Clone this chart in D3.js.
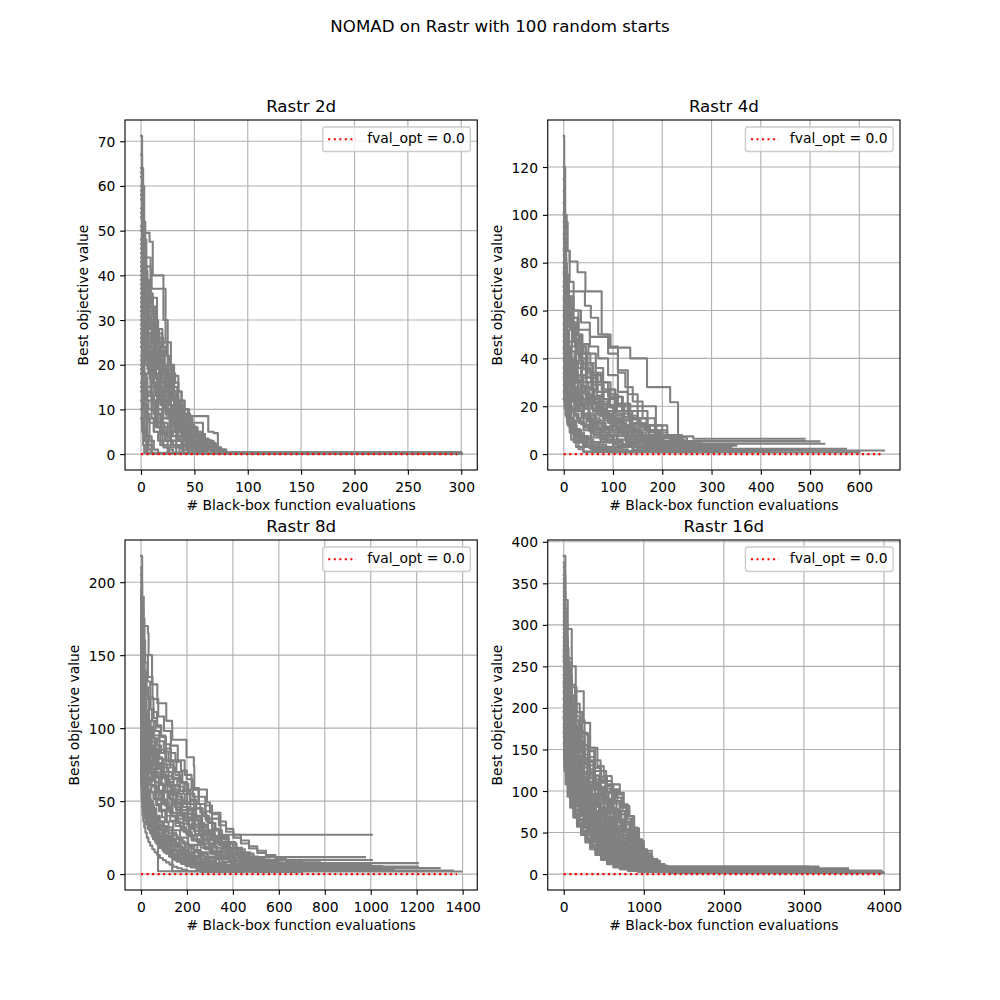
<!DOCTYPE html>
<html>
<head>
<meta charset="utf-8">
<script src="https://d3js.org/d3.v7.min.js"></script>
<style>
  body { margin: 0; background: #fff; }
  text { font-family: "DejaVu Sans", sans-serif; fill: #000; }
</style>
</head>
<body>
<div id="chart-area"></div>
<script>
/*
*    NOMAD on Rastr - best objective value vs evaluations
*    4 panels, one per dimension
*/

// ---- data ([evaluations, best value so far]) ----
var runs2d = [
  [[0,71.2],[1,64],[2,52],[4,38],[7,22],[10,12],[14,6],[20,2],[26,0.3],[300,0.1]],
  [[0,63],[1,60],[3,49.5],[7,49.5],[8,47.5],[10,47.5],[11,40],[20,40],[21,30],[25,20],[30,20],[31,12],[40,6],[50,1],[56,0.1],[300,0.1]],
  [[0,60],[2,45],[4,42],[9,41],[10,37],[22,37],[23,25],[28,17.5],[34,17.5],[35,10],[45,4],[55,1],[60,0.1],[300,0.1]],
  [[0,55],[2,48],[5,44],[8,44],[9,35],[14,35],[15,28],[20,26],[21,18],[30,14],[38,9],[46,8.5],[62,8.5],[63,5],[68,4.7],[72,1],[80,0.1],[300,0.1]],
  [[0,50],[2,40],[5,30],[12,27],[13,20],[20,18],[27,13],[35,12],[36,7],[57,7],[58,3],[66,2.5],[70,0.2],[300,0.1]],
  [[0,45],[1,35],[4,22],[9,15],[15,10],[20,5],[28,3],[40,0.2],[300,0.1]],
  [[0,42],[2,33],[6,28],[11,25],[12,18],[18,14],[25,9],[32,5],[42,3],[52,2.5],[60,1],[66,0.2],[300,0.1]],
  [[0,38],[2,30],[5,26],[7,23],[14,20],[20,16],[25,11],[32,8],[40,4],[50,2],[58,0.2],[300,0.1]],
  [[0,35],[1,20],[3,10],[6,4],[10,0.2],[300,0.1]],
  [[0,33],[2,28],[4,24],[6,24],[10,21],[14,18],[18,14],[22,10],[27,6],[34,3],[45,1],[52,0.1],[300,0.1]],
  [[0,30],[3,18],[5,8],[8,3],[12,1],[16,0.1],[300,0.1]],
  [[0,28],[1,15],[3,5],[5,0.3],[300,0.1]],
  [[0,25],[3,20],[8,17],[15,15],[22,12],[28,8],[36,5],[44,2],[52,0.2],[300,0.1]],
  [[0,22],[2,18],[5,14],[10,10],[16,6],[24,4],[33,2],[43,1],[48,0.3],[300,0.1]],
  [[0,20],[1,16],[3,10],[5,4],[7,1],[10,0.1],[300,0.1]],
  [[0,18],[2,15],[6,12],[12,9],[20,6],[28,3],[38,1],[44,0.1],[300,0.1]],
  [[0,16],[1,8],[3,3],[5,0.2],[300,0.1]],
  [[0,14],[2,11],[6,8],[12,5],[18,2],[25,0.2],[300,0.1]],
  [[0,12],[1,6],[2,2],[3,0.2],[300,0.1]],
  [[0,8],[1,5],[3,3],[6,0.2],[300,0.1]],
  [[0,48],[1,42],[3,30],[6,22],[9,20],[12,15],[16,10],[20,5],[25,1],[30,0.1],[300,0.1]],
  [[0,58],[1,50],[2,43],[4,36],[7,30],[10,28],[13,28],[14,22],[18,20],[23,15],[28,10],[33,5],[38,2],[45,0.3],[300,0.1]],
  [[0,53],[1,46],[3,40],[5,35],[7,32],[12,32],[13,24],[17,19],[22,16],[26,13],[31,9],[37,6],[45,3.5],[55,2],[62,1],[67,0.1],[300,0.1]],
  [[0,40],[1,32],[2,25],[4,20],[8,19],[12,17],[17,12],[21,8],[27,5],[35,3],[48,2],[54,0.2],[300,0.1]],
  [[0,44],[1,39],[2,34],[4,30],[8,29],[12,24],[15,22],[19,19],[23,14],[30,12],[33,9],[40,7],[45,4.5],[58,3.2],[65,1.5],[73,0.3],[300,0.1]],
  [[0,36],[1,31],[3,28],[6,26],[10,25],[13,21],[17,17],[20,12],[24,8],[30,6.5],[37,5],[42,3],[48,1.5],[55,0.2],[300,0.1]],
  [[0,32],[2,29],[5,27],[9,27],[10,22],[15,20],[19,17],[23,13],[27,11],[31,8.5],[36,6],[40,4],[47,2.5],[60,1.5],[68,0.4],[300,0.1]],
  [[0,26],[1,24],[3,22],[6,22],[8,18],[12,16],[16,13],[19,11],[24,9],[29,6],[33,4],[39,2],[44,0.2],[300,0.1]],
  [[0,24],[1,20],[2,16],[4,14],[7,13],[10,10],[13,7],[18,5],[22,3],[30,2],[36,0.2],[300,0.1]],
  [[0,67],[1,58],[2,50],[3,42],[5,38],[8,36],[11,33],[14,30],[16,27],[20,25],[24,22],[26,19],[30,15],[34,11],[40,8],[48,5],[56,3],[64,2],[70,1],[76,0.2],[300,0.1]],
  [[0,62],[1,55],[2,46],[4,41],[6,38],[9,33],[12,29],[15,26],[19,22],[22,19],[26,15],[30,12],[34,9],[38,6],[43,3],[50,1],[56,0.1],[300,0.1]],
  [[0,57],[1,49],[3,44],[5,39],[8,35],[11,31],[14,27],[17,23],[21,20],[25,17],[28,13],[31,10],[36,7],[42,4],[49,2],[55,0.1],[300,0.1]],
  [[0,46],[1,40],[3,36],[5,33],[8,30],[11,27],[14,24],[18,21],[21,18],[24,16],[27,14],[31,11],[35,8],[40,6],[47,4],[53,2],[60,0.1],[300,0.1]],
  [[0,41],[1,37],[2,33],[4,31],[7,29],[10,26],[13,23],[16,20],[20,18],[24,15],[28,12.5],[32,10],[38,8],[44,6],[52,4.5],[60,3],[68,1.5],[75,0.1],[300,0.1]],
  [[0,37],[1,33],[3,30],[6,27],[9,24],[12,21],[15,19],[18,16],[22,14],[26,11],[30,9],[34,7.5],[39,5.5],[46,4],[54,3],[62,2],[70,0.1],[300,0.1]],
  [[0,34],[1,30],[3,26],[5,23],[8,20],[11,18],[15,15],[19,13],[23,11],[28,9],[32,7],[37,5],[42,3.5],[50,2],[58,0.1],[300,0.1]],
  [[0,29],[1,26],[3,23],[6,21],[9,19],[13,17],[17,14],[21,12],[25,10],[30,8],[35,6],[41,4],[47,2.5],[54,1],[60,0.1],[300,0.1]],
  [[0,27],[2,24],[4,21],[7,18],[10,16],[14,13],[18,11],[23,9],[27,7],[32,5],[38,3.5],[45,2],[52,0.1],[300,0.1]],
  [[0,51],[1,44],[2,38],[3,34],[5,31],[8,28],[11,26],[14,24],[17,21],[20,19],[23,17],[26,15],[29,13],[32,11],[35,9],[38,7.5],[42,6],[47,4.5],[53,3],[61,1.5],[68,0.1],[300,0.1]],
  [[0,64],[1,56],[2,48],[3,41],[5,36],[7,33],[10,30],[13,28],[16,25],[19,23],[22,20],[25,18],[28,16],[31,14],[34,12],[37,10],[41,8],[45,6.5],[50,5],[56,3.5],[63,2],[71,0.8],[78,0.1],[300,0.1]],
  [[0,21],[1,19],[3,17],[6,15],[9,13],[12,11],[16,9],[20,7],[25,5.5],[30,4],[36,3],[42,1.5],[48,0.1],[300,0.1]],
  [[0,19],[1,17],[2,14],[4,12],[7,10],[10,8],[14,6],[18,4.5],[23,3],[28,1.5],[33,0.1],[300,0.1]],
  [[0,15],[1,13],[3,11],[5,9],[8,7],[12,5],[16,3],[21,1.5],[26,0.1],[300,0.1]],
  [[0,43],[1,36],[2,30],[3,25],[5,21],[7,18],[9,15],[12,12],[15,9],[18,7],[22,5],[27,3],[33,1.5],[39,0.1],[300,0.1]],
  [[0,39],[1,33],[2,28],[4,24],[6,21],[8,18],[11,16],[14,14],[17,12],[20,10.5],[24,9],[28,7.5],[33,6],[38,4.5],[44,3],[51,1.5],[57,0.1],[300,0.1]],
  [[0,31],[1,27],[2,24],[4,21],[6,19],[9,17],[12,15],[15,13],[18,11.5],[22,10],[26,8.5],[30,7],[35,5.5],[40,4],[46,2.5],[53,1.2],[59,0.1],[300,0.1]],
  [[0,54],[1,47],[2,41],[3,37],[4,34],[6,31],[8,29],[10,27],[12,25],[15,23],[18,21],[21,19],[24,17],[27,15.5],[30,14],[33,12],[36,10.5],[39,9],[43,7.5],[47,6],[52,4.5],[58,3],[65,2],[72,1],[79,0.1],[300,0.1]],
  [[0,10],[1,8],[2,6],[4,4],[7,2],[10,0.1],[300,0.1]],
  [[0,47],[1,41],[2,36],[3,31],[4,27],[6,24],[8,21],[10,19],[13,17],[16,15],[19,13],[22,11.5],[25,10],[29,8.5],[33,7],[37,5.5],[42,4],[48,2.5],[55,1],[62,0.1],[300,0.1]],
  [[0,59],[1,52],[2,46],[3,42],[5,39],[7,36],[9,34],[11,32],[13,30],[15,28],[17,26],[20,24],[23,22],[26,20],[29,18],[32,16],[35,14],[38,12],[41,10],[44,8],[48,6],[53,4],[59,2.5],[66,1.2],[74,0.1],[300,0.1]]
];

var runs4d = [
  [[0,133],[1,120],[3,100],[6,85],[12,72],[20,60],[30,45],[45,32],[60,22],[80,15],[100,10],[130,6],[170,3],[220,1.5],[650,1.5]],
  [[0,97],[5,97],[8,85],[12,80.5],[27,80.5],[28,76],[43,76],[44,68],[76,68],[77,50],[95,45],[110,35],[130,25],[150,18],[170,12],[200,7],[240,5.3],[519,5.3]],
  [[0,85],[3,75],[8,66],[20,60],[35,55],[53,49],[91,49],[92,44.5],[134,44.5],[135,40],[168,40],[169,28],[215,28],[216,21.7],[225,21.7],[232,7.4],[262,7.4],[263,6.4],[489,6.4]],
  [[0,90],[2,80],[5,72],[10,68],[42,68],[43,62],[55,57],[70,50],[90,42],[110,34],[125,28],[140,22],[160,15],[185,10],[210,7],[250,4.3],[529,4.3]],
  [[0,80],[2,70],[5,63],[15,57],[30,52],[52,52],[53,45],[70,40],[90,33],[110,26],[130,20],[186,20],[187,12],[210,8],[240,4],[270,2.2],[573,2.2]],
  [[0,75],[2,62],[5,50],[10,40],[18,30],[28,22],[40,16],[55,10],[75,6],[100,3],[140,1.5],[300,0.8],[600,0.8]],
  [[0,70],[1,55],[3,40],[6,28],[12,18],[20,10],[30,5],[40,1],[250,0.8]],
  [[0,65],[2,55],[6,45],[14,38],[25,32],[40,28],[60,24],[80,20],[100,16],[120,12],[145,8],[170,5],[220,3],[300,2],[490,2]],
  [[0,60],[1,48],[3,38],[8,30],[15,24],[25,18],[40,12],[60,8],[85,5],[120,3],[180,1.2],[380,1.2]],
  [[0,55],[2,45],[5,38],[10,34],[20,30],[35,26],[50,22],[70,18],[90,14],[105,11],[120,8],[150,5],[190,3],[260,1],[420,1]],
  [[0,50],[1,40],[3,30],[6,22],[12,15],[20,10],[35,7],[55,4],[80,2],[120,1],[200,1]],
  [[0,45],[2,36],[5,30],[12,26],[22,23],[35,20],[50,17],[65,14],[80,11],[100,9],[125,7],[160,5],[200,3],[270,1.8],[350,1.8]],
  [[0,40],[1,30],[4,20],[8,12],[15,6],[25,3],[40,1],[150,1]],
  [[0,23],[5,23],[8,18],[15,14],[25,10],[35,6],[45,3],[60,1],[200,1]],
  [[0,23],[3,23],[6,15],[12,9],[20,5],[30,2],[40,1],[100,1]],
  [[0,110],[1,95],[3,80],[6,70],[10,62],[16,55],[25,48],[35,42],[48,37],[60,33],[75,30],[90,27],[105,24],[120,21],[135,18],[150,15],[170,10],[190,7],[230,5.5],[490,5.5]],
  [[0,100],[2,85],[5,75],[10,65],[18,57],[28,50],[38,46],[50,42],[65,36],[80,30],[95,25],[110,20],[130,16],[150,13],[165,10],[185,7],[200,5],[230,3],[300,3]],
  [[0,88],[1,75],[3,62],[6,52],[10,44],[16,37],[24,31],[34,26],[46,22],[60,19],[75,16],[90,13],[105,10],[125,7],[150,5],[180,3.5],[230,2],[280,2]],
  [[0,78],[1,65],[3,55],[6,46],[10,38],[15,31],[22,25],[30,20],[40,16],[52,13],[65,10],[80,8],[100,6],[130,4],[170,2.5],[230,1.5],[260,1.5]],
  [[0,72],[1,60],[2,50],[4,42],[7,35],[11,28],[16,22],[22,17],[30,13],[40,10],[55,7],[75,5],[100,3],[140,1.5],[180,0.8],[300,0.8]],
  [[0,68],[2,58],[5,50],[9,45],[14,40],[20,36],[28,33],[38,30],[50,27],[62,24],[75,21],[88,18],[100,15],[115,12],[130,10],[150,8],[175,6],[200,4.5],[240,3.5],[280,3.5]],
  [[0,62],[1,52],[3,43],[6,36],[10,30],[15,25],[21,21],[28,18],[36,15],[46,12],[58,9],[72,7],[88,5],[110,3.5],[140,2],[180,1],[250,1]],
  [[0,58],[1,45],[2,35],[4,26],[7,19],[11,14],[16,10],[22,7],[30,5],[40,3],[55,2],[80,1],[150,1]],
  [[0,52],[1,44],[3,38],[5,34],[8,31],[12,29],[18,27],[25,25],[33,22],[42,19],[52,16],[64,13],[78,10],[92,8],[108,6],[128,4.5],[150,3],[185,2],[240,2]],
  [[0,47],[1,38],[2,30],[4,24],[7,19],[10,15],[14,12],[20,9],[27,7],[36,5],[48,3.5],[62,2],[80,1],[140,1]],
  [[0,42],[2,35],[4,30],[7,27],[11,24],[16,22],[22,20],[30,18],[40,16],[50,14],[62,11],[75,9],[88,7],[102,5],[118,4],[140,3],[170,2],[220,2]],
  [[0,36],[1,28],[3,21],[6,16],[10,12],[15,9],[22,7],[30,5],[40,3.5],[52,2.5],[66,1.5],[90,0.8],[160,0.8]],
  [[0,32],[1,25],[2,20],[4,16],[7,13],[12,11],[18,9],[25,7],[33,5.5],[42,4],[54,3],[70,2],[95,1],[170,1]],
  [[0,120],[1,100],[2,85],[4,72],[7,62],[11,53],[17,45],[25,38],[35,32],[46,27],[58,23],[72,19],[86,15],[100,12],[115,9],[132,7],[150,5.5],[175,4],[205,3],[240,2],[300,1.5]],
  [[0,105],[1,90],[3,78],[6,68],[10,60],[15,53],[21,47],[28,42],[36,38],[45,34],[55,30],[66,26],[78,23],[90,20],[104,17],[118,14],[134,11],[150,9],[168,7],[190,5.5],[215,4],[245,3],[270,2.5],[300,2.5]],
  [[0,95],[2,82],[5,73],[9,66],[14,60],[20,55],[27,50],[35,46],[44,42],[54,38],[65,34],[77,30],[90,27],[104,24],[118,21],[133,18],[150,15],[168,12],[188,9],[210,7],[235,5],[260,3.5],[300,3.5]],
  [[0,83],[2,72],[5,64],[9,58],[14,53],[20,48],[27,44],[35,40],[44,36],[54,33],[65,30],[77,27],[90,24],[104,21],[118,18],[133,15],[150,12],[170,9.5],[192,7],[218,5],[245,4],[350,4]],
  [[0,76],[1,66],[3,57],[6,50],[10,44],[15,39],[21,35],[28,31],[36,28],[45,25],[55,22],[66,20],[78,18],[91,16],[105,14],[120,12],[137,10],[155,8],[176,6],[200,4.5],[228,3],[260,2],[330,2]],
  [[0,70],[1,60],[3,52],[6,46],[10,41],[15,37],[21,33],[28,30],[36,27],[45,24],[55,21.5],[66,19],[78,17],[92,15],[107,13],[123,11],[140,9],[160,7],[183,5.5],[208,4],[238,3],[270,2],[400,2]],
  [[0,64],[1,56],[3,49],[5,44],[8,40],[12,36],[17,33],[23,30],[30,27],[38,25],[47,23],[57,21],[68,19],[80,17],[93,15],[107,13],[122,11],[138,9.5],[156,8],[176,6.5],[198,5],[222,4],[250,3],[300,3]],
  [[0,57],[1,50],[2,44],[4,39],[7,35],[11,32],[16,29],[22,27],[29,25],[37,23],[46,21],[56,19],[67,17],[79,15],[92,13],[106,11],[121,9.5],[138,8],[156,6.5],[176,5],[200,4],[230,3],[270,2.5],[320,2.5]],
  [[0,54],[1,47],[2,41],[4,36],[7,32],[10,29],[14,26],[19,23],[25,21],[32,19],[40,17],[49,15],[59,13.5],[70,12],[82,10.5],[95,9],[110,7.5],[126,6],[145,5],[166,4],[190,3],[220,2],[260,2]],
  [[0,49],[1,43],[2,38],[4,34],[6,31],[9,28],[13,25],[18,22],[24,20],[31,18],[39,16],[48,14],[58,12],[69,10.5],[81,9],[94,7.5],[109,6],[126,5],[146,4],[170,3],[200,2],[240,1.5],[300,1.5]],
  [[0,44],[1,38],[2,33],[3,29],[5,26],[8,23],[11,21],[15,19],[20,17],[26,15],[33,13.5],[41,12],[50,10.5],[60,9],[72,7.5],[85,6],[100,5],[118,4],[140,3],[165,2],[200,1.2],[260,1.2]],
  [[0,39],[1,34],[2,30],[4,27],[6,24],[9,22],[13,20],[17,18],[22,16],[28,14],[35,12.5],[43,11],[52,9.5],[62,8],[74,6.5],[88,5],[104,4],[124,3],[150,2],[180,1.2],[230,1.2]],
  [[0,34],[1,30],[2,26],[3,23],[5,20],[8,18],[11,16],[15,14],[20,12],[26,10.5],[33,9],[41,7.5],[50,6],[60,5],[72,4],[86,3],[104,2],[130,1.2],[180,1.2]],
  [[0,29],[1,25],[2,22],[4,19],[6,17],[9,15],[13,13],[18,11],[24,9.5],[31,8],[39,6.5],[48,5],[58,4],[70,3],[85,2],[105,1],[150,1]],
  [[0,26],[1,22],[2,19],[4,16],[7,14],[10,12],[14,10],[19,8.5],[25,7],[32,5.5],[40,4.5],[50,3.5],[62,2.5],[78,1.5],[100,0.8],[140,0.8]],
  [[0,115],[1,98],[2,86],[4,77],[6,70],[9,64],[13,59],[18,54],[24,50],[31,46],[39,42],[48,38],[58,34],[69,30],[81,27],[94,24],[108,21],[123,18],[139,15],[156,12],[175,9.5],[196,7.5],[220,5.5],[245,4],[275,3],[320,3]],
  [[0,92],[1,80],[3,71],[5,64],[8,58],[12,53],[17,49],[23,45],[30,41],[38,38],[47,35],[57,32],[68,29],[80,26],[93,23],[107,20],[122,17],[138,14.5],[155,12],[174,10],[195,8],[218,6],[245,4.5],[280,3.5],[350,3.5]],
  [[0,86],[1,74],[2,65],[4,58],[7,52],[11,47],[16,43],[22,39],[29,36],[37,33],[46,30],[56,27],[67,24.5],[79,22],[92,19.5],[106,17],[121,14.5],[137,12],[154,10],[173,8],[194,6.5],[218,5],[246,4],[280,3],[340,3]],
  [[0,66],[1,58],[2,51],[3,45],[5,40],[7,36],[10,33],[14,30],[19,28],[25,26],[32,24],[40,22],[49,20],[59,18],[70,16],[82,14],[95,12],[109,10.5],[124,9],[140,7.5],[158,6],[178,4.8],[200,3.8],[226,3],[256,2.2],[300,2.2]],
  [[0,61],[1,53],[2,47],[3,42],[5,38],[7,35],[10,32],[13,29.5],[17,27],[22,25],[28,23],[35,21],[43,19],[52,17],[62,15],[73,13],[85,11.5],[98,10],[112,8.5],[128,7],[145,5.8],[165,4.6],[188,3.6],[214,2.8],[245,2],[290,2]],
  [[0,101],[1,88],[2,78],[4,70],[6,63],[9,57],[13,52],[18,47],[24,43],[31,39],[39,35.5],[48,32],[58,29],[69,26],[81,23],[94,20.5],[108,18],[123,15.5],[139,13],[156,11],[174,9],[194,7],[216,5.5],[240,4.2],[268,3.2],[300,3.2]],
  [[0,80],[1,70],[2,62],[3,56],[5,51],[7,47],[10,43],[13,40],[17,37],[22,34],[28,31],[35,28.5],[43,26],[52,23.5],[62,21],[73,19],[85,17],[98,15],[112,13],[127,11],[143,9],[160,7.5],[180,6],[202,4.8],[226,3.8],[252,3],[290,3]]
];

var runs8d = [
  [[0,218],[5,190],[12,170],[30,165],[33,150],[48,130],[70,130],[71,117],[96,117],[110,105],[135,102],[136,92],[197,92],[198,80],[230,74],[232,58],[272,58],[287,49],[300,42],[345,42],[346,27],[1005,27]],
  [[0,200],[5,175],[15,150],[30,135],[50,120],[75,108],[100,98],[130,88],[160,78],[190,68],[220,58],[250,48],[280,38],[310,30],[340,24],[380,18],[420,14],[460,11.6],[975,11.6]],
  [[0,190],[3,165],[10,140],[20,120],[35,105],[55,95],[80,85],[110,75],[140,66],[170,57],[200,48],[230,40],[260,33],[290,27],[320,22],[360,17],[400,13],[450,9.6],[1005,9.6]],
  [[0,175],[3,150],[8,130],[16,112],[28,98],[45,86],[65,76],[90,66],[115,57],[140,49],[170,41],[200,34],[235,27],[270,21],[310,16],[350,12],[400,9],[460,7.5],[1205,7.5]],
  [[0,160],[2,140],[6,120],[12,104],[22,90],[36,78],[55,67],[78,57],[100,49],[125,42],[155,35],[185,29],[220,23],[260,18],[300,14],[350,10],[410,7],[480,5.2],[1205,5.2]],
  [[0,150],[2,130],[5,112],[10,96],[18,82],[30,70],[45,60],[65,51],[88,43],[112,36],[140,30],[170,25],[205,20],[245,15],[290,11],[340,8],[400,6],[470,4.1],[1300,4.1]],
  [[0,140],[2,120],[5,100],[10,84],[17,70],[27,58],[40,48],[55,40],[75,32],[100,26],[130,20],[165,15],[210,11],[260,8],[320,5.5],[390,3.5],[460,2.5],[1358,2.5]],
  [[0,130],[2,110],[5,92],[10,76],[16,63],[25,52],[37,43],[52,36],[70,30],[92,25],[118,20],[150,16],[190,12],[240,9],[300,6],[370,4],[440,1.8],[1394,1.8]],
  [[0,110],[2,90],[6,72],[12,58],[20,47],[30,38],[45,30],[60,25],[72,22],[74,2],[500,1.5],[700,1.5]],
  [[0,115],[1,98],[3,84],[6,72],[10,62],[16,53],[24,45],[34,38],[46,32],[60,27],[78,22],[100,18],[134,15],[136,2],[600,1.5]],
  [[0,105],[1,90],[3,78],[6,67],[11,58],[18,50],[27,43],[38,37],[52,31],[68,26],[88,21],[112,17],[140,13],[175,10],[215,7],[265,5],[330,3.5],[420,2.5],[800,2.5]],
  [[0,100],[1,85],[2,75],[5,64],[9,55],[15,47],[23,40],[33,34],[45,29],[60,24],[78,20],[100,16],[128,12.5],[160,10],[200,7.5],[250,5.5],[310,4],[390,3],[900,3]],
  [[0,95],[1,82],[3,70],[6,60],[10,52],[16,45],[24,39],[34,34],[46,29],[60,25],[76,21],[96,17],[120,14],[150,11],[190,8],[240,6],[300,4.5],[380,3.5],[700,3.5]],
  [[0,88],[1,76],[3,66],[6,58],[11,51],[18,45],[26,40],[36,36],[48,32],[62,28],[80,24],[100,20],[125,17],[155,14],[190,11],[230,8.5],[280,6.5],[340,5],[420,4],[1000,4]],
  [[0,80],[1,70],[3,62],[6,55],[10,49],[16,44],[24,39],[34,35],[46,31],[60,27],[78,23],[100,19.5],[126,16],[158,13],[195,10],[240,8],[295,6],[360,4.5],[450,3],[1100,3]],
  [[0,75],[2,66],[5,58],[9,51],[15,45],[22,40],[32,36],[45,32],[60,28],[80,24],[105,20],[135,16],[170,12],[210,9],[260,6.5],[320,4.5],[400,3],[850,3]],
  [[0,170],[2,150],[5,132],[10,118],[17,106],[26,96],[38,88],[52,81],[68,75],[85,70],[105,65],[125,60],[150,55],[175,50],[200,45],[225,40],[250,35],[275,30],[300,26],[330,22],[360,18],[395,14],[430,11],[480,8],[540,6],[600,5],[960,5]],
  [[0,155],[2,138],[5,124],[10,112],[17,102],[26,93],[38,85],[52,78],[68,72],[86,66],[106,60],[128,54],[152,48],[178,42],[205,37],[235,32],[265,28],[300,24],[340,20],[380,16],[420,13],[470,10],[530,8],[600,6.5],[700,6],[1000,6]],
  [[0,145],[3,125],[7,110],[12,100],[20,92],[30,86],[45,80],[60,76],[80,72],[100,68],[120,63],[140,58],[160,53],[180,48],[200,44],[220,40],[240,37],[265,33],[290,29],[315,25],[345,21],[380,17],[420,13],[460,10],[510,7],[560,5],[650,4],[800,4]],
  [[0,135],[2,118],[4,105],[8,95],[14,88],[22,82],[32,77],[45,72],[60,67],[78,62],[96,57],[115,52],[135,47],[158,42],[182,37],[208,32],[236,27],[265,23],[295,19],[330,15],[370,12],[410,9],[460,7],[520,5],[600,4],[700,4]],
  [[0,125],[2,110],[5,97],[9,87],[15,79],[23,72],[33,66],[45,61],[60,56],[76,52],[94,48],[112,44],[130,40],[150,36],[172,32],[196,28],[222,24],[250,20],[280,17],[312,14],[348,11],[390,8.5],[440,6.5],[500,5],[580,4],[650,4]],
  [[0,182],[2,160],[4,142],[8,128],[14,116],[22,106],[32,98],[44,91],[58,85],[74,80],[92,75],[112,70],[134,65],[158,60],[184,55],[212,50],[240,45],[268,40],[296,35],[324,30],[352,26],[380,22],[410,18],[440,15],[475,12],[510,10],[560,8],[620,7],[700,6.5],[900,6.5]],
  [[0,92],[1,80],[2,70],[4,60],[7,52],[11,45],[16,40],[22,36],[30,32],[40,28],[52,24],[66,21],[82,18],[100,15],[122,12],[148,9.5],[180,7.5],[220,5.5],[270,4],[340,3],[420,2],[600,2]],
  [[0,85],[1,72],[2,62],[4,54],[7,47],[11,42],[17,38],[25,34],[35,30],[47,26],[62,22],[80,18],[100,15],[125,12],[155,9],[190,7],[235,5],[290,3.5],[360,2.5],[500,2.5]],
  [[0,165],[1,145],[3,128],[6,115],[10,104],[16,94],[24,85],[34,77],[46,70],[60,63],[76,57],[94,51],[114,45],[136,40],[160,35],[186,30],[214,26],[244,22],[276,18],[310,15],[348,12],[390,9.5],[436,7.5],[490,6],[560,5],[640,4.5],[1100,4.5]],
  [[0,110],[1,95],[3,82],[6,71],[10,62],[15,55],[21,49],[29,44],[38,40],[49,36],[62,32],[76,28],[92,25],[110,22],[130,19],[152,16],[176,13],[204,10.5],[236,8.5],[272,6.5],[314,5],[362,3.5],[420,2.5],[480,1.5],[600,1.5]],
  [[0,195],[1,172],[3,152],[6,136],[10,122],[16,110],[24,100],[34,92],[46,85],[60,79],[76,73],[94,67],[114,61],[134,55],[156,49],[178,44],[202,39],[228,34],[256,29],[286,25],[318,21],[352,17],[390,14],[430,11],[475,9],[525,7],[600,6],[1000,6]],
  [[0,140],[1,122],[2,108],[4,96],[7,85],[11,76],[16,68],[22,61],[30,55],[40,50],[52,45],[66,40],[82,36],[100,32],[120,28],[142,24],[166,21],[192,18],[220,15],[250,12],[285,9.5],[325,7.5],[370,6],[420,4.5],[480,3.5],[560,3],[750,3]],
  [[0,128],[1,110],[3,95],[6,83],[10,73],[15,64],[21,57],[28,51],[36,46],[46,42],[58,38],[72,34],[88,30],[106,26],[126,22],[148,19],[172,16],[198,13],[228,10.5],[262,8.5],[300,7],[345,5.5],[395,4.5],[450,3.5],[520,3],[650,3]],
  [[0,98],[1,84],[3,72],[6,62],[10,54],[16,47],[24,41],[34,36],[46,31],[60,27],[76,23],[94,19],[115,16],[140,13],[168,10],[200,8],[240,6],[290,4.5],[350,3],[430,2],[550,1.5],[700,1.5]],
  [[0,205],[4,180],[10,160],[18,145],[28,132],[40,121],[54,111],[70,102],[88,94],[108,86],[130,78],[154,70],[180,62],[206,55],[232,48],[258,42],[284,36],[310,31],[338,26],[368,21],[400,17],[434,13],[470,10],[510,8],[560,6.5],[640,6],[850,6]],
  [[0,185],[3,163],[8,146],[15,133],[24,122],[35,113],[48,105],[63,98],[80,91],[99,84],[120,77],[142,70],[166,63],[190,57],[215,51],[240,45],[266,40],[292,35],[320,30],[350,25],[382,21],[416,17],[452,14],[490,11],[535,9],[590,7.5],[660,7],[950,7]],
  [[0,168],[3,148],[8,132],[15,120],[24,110],[35,101],[48,93],[63,86],[80,79],[99,73],[120,67],[142,61],[166,55],[190,49],[215,44],[240,39],[266,34],[292,30],[320,26],[350,22],[382,18],[416,15],[452,12],[490,9.5],[535,7.5],[590,6],[700,5.5],[1050,5.5]],
  [[0,152],[3,134],[7,120],[13,109],[21,100],[31,92],[43,85],[57,79],[73,73],[91,67],[111,61.5],[133,56],[157,51],[182,46],[208,41],[235,36.5],[263,32],[292,28],[322,24],[354,20.5],[388,17],[424,14],[462,11.5],[502,9],[548,7],[600,5.5],[680,5],[900,5]],
  [[0,138],[2,122],[6,109],[12,99],[20,91],[29,84],[40,78],[53,72],[68,66],[85,61],[104,56],[125,51],[148,46],[172,42],[197,38],[223,34],[250,30],[278,26.5],[307,23],[338,20],[370,17],[404,14],[440,11.5],[478,9],[520,7],[570,5.5],[640,4.5],[780,4.5]],
  [[0,122],[2,108],[5,97],[10,88],[17,81],[25,75],[35,69],[47,64],[61,59],[77,54],[95,50],[115,46],[137,42],[160,38],[184,34.5],[209,31],[235,27.5],[262,24],[290,21],[320,18],[352,15.5],[386,13],[422,10.5],[460,8.5],[500,6.5],[550,5],[620,4],[750,4]],
  [[0,108],[2,96],[5,86],[9,78],[15,72],[22,66],[31,61],[42,56],[55,52],[70,48],[87,44],[106,40],[127,36.5],[150,33],[174,30],[199,27],[225,24],[252,21],[280,18.5],[310,16],[342,13.5],[376,11],[412,9],[450,7],[495,5.5],[550,4.5],[620,4],[720,4]],
  [[0,96],[1,86],[3,78],[6,71],[10,65],[15,60],[21,55],[29,51],[38,47],[49,43],[62,39.5],[77,36],[94,33],[113,30],[134,27],[157,24],[181,21.5],[206,19],[232,16.5],[260,14],[290,12],[322,10],[356,8.5],[392,7],[432,5.5],[480,4.5],[540,3.5],[640,3.5]],
  [[0,82],[1,74],[3,67],[6,61],[10,56],[15,51],[21,47],[29,43],[38,39.5],[49,36],[62,33],[77,30],[94,27],[113,24],[134,21.5],[157,19],[181,16.5],[206,14.5],[232,12.5],[260,10.5],[290,9],[322,7.5],[356,6],[392,5],[432,4],[480,3],[560,2.5],[700,2.5]],
  [[0,78],[1,68],[2,60],[4,53],[7,47],[11,42],[16,38],[22,34],[30,31],[40,28],[52,25],[66,22],[82,19.5],[100,17],[120,15],[142,13],[166,11],[192,9.5],[220,8],[250,6.5],[282,5.5],[316,4.5],[352,3.5],[392,2.8],[440,2.2],[520,2.2]],
  [[0,210],[2,185],[5,165],[9,150],[15,138],[22,128],[31,120],[42,113],[55,107],[70,101],[87,95],[106,89],[127,83],[150,77],[174,71],[199,65],[225,59],[252,53],[280,47],[309,41],[339,36],[370,31],[402,27],[435,23],[470,19],[506,16],[544,13],[585,11],[630,9],[700,8],[780,7.5],[1000,7.5]],
  [[0,178],[2,158],[5,142],[9,130],[15,120],[22,112],[31,105],[42,99],[55,93],[70,88],[87,83],[106,78],[127,73],[150,68],[174,63],[199,58],[225,53],[252,48],[280,43],[309,38],[339,33.5],[370,29],[402,25],[435,21],[470,17.5],[506,14.5],[544,12],[585,10],[630,8.5],[700,7],[1000,7]],
  [[0,118],[1,104],[3,92],[6,82],[10,74],[15,67],[21,61],[28,56],[36,51],[45,47],[55,43],[66,39],[78,35.5],[91,32],[105,29],[120,26],[136,23],[153,20.5],[171,18],[190,16],[210,14],[232,12],[256,10],[282,8.5],[310,7],[340,5.5],[372,4.5],[406,3.5],[444,2.5],[500,2],[600,2]],
  [[0,90],[1,79],[2,70],[4,62],[7,55],[10,49],[14,44],[19,40],[25,36],[32,32.5],[40,29],[49,26],[59,23],[70,20.5],[82,18],[95,16],[109,14],[124,12],[140,10],[157,8.5],[175,7],[195,5.5],[217,4.5],[241,3.5],[268,2.5],[300,2],[400,2]],
  [[0,162],[2,143],[5,128],[9,116],[14,106],[20,98],[27,91],[35,85],[44,80],[54,75],[65,70],[77,65.5],[90,61],[104,56.5],[119,52],[135,48],[152,44],[170,40],[189,36.5],[209,33],[230,29.5],[252,26.5],[275,23.5],[299,20.5],[324,18],[350,15.5],[378,13],[408,11],[440,9],[476,7.5],[520,6],[580,5],[680,4.5],[900,4.5]],
  [[0,148],[2,130],[4,116],[8,105],[13,96],[19,88],[26,81],[34,75],[43,69.5],[53,64.5],[64,60],[76,55.5],[89,51],[103,47],[118,43],[134,39.5],[151,36],[169,32.5],[188,29],[208,26],[229,23],[251,20],[274,17.5],[298,15],[324,12.5],[352,10.5],[382,8.5],[414,7],[450,5.5],[490,4.5],[540,3.5],[620,3],[800,3]],
  [[0,132],[1,116],[3,103],[6,93],[10,85],[15,78],[21,72],[28,66],[36,61],[45,56],[55,51.5],[66,47],[78,43],[91,39],[105,35.5],[120,32],[136,28.5],[153,25.5],[171,22.5],[190,20],[210,17.5],[231,15],[253,13],[276,11],[300,9],[326,7.5],[354,6],[384,5],[416,4],[452,3],[500,2.5],[600,2.5]],
  [[0,102],[1,90],[3,80],[6,72],[10,65],[15,59],[21,54],[28,49.5],[36,45],[45,41],[55,37],[66,33.5],[78,30],[91,27],[105,24],[120,21.5],[136,19],[153,16.5],[171,14.5],[190,12.5],[210,10.5],[231,9],[253,7.5],[276,6],[300,5],[326,4],[354,3],[400,2.5],[500,2.5]],
  [[0,86],[1,76],[2,68],[4,61],[6,55],[9,50],[13,45],[18,41],[24,37],[31,33.5],[39,30],[48,27],[58,24],[69,21.5],[81,19],[94,16.5],[108,14.5],[123,12.5],[139,10.5],[156,9],[174,7.5],[194,6],[216,5],[240,4],[266,3],[300,2],[360,1.5],[450,1.5]],
  [[0,76],[1,66],[2,58],[3,51],[5,45],[7,40],[10,36],[14,32],[19,28.5],[25,25],[32,22],[40,19.5],[49,17],[59,15],[70,13],[82,11],[95,9.5],[109,8],[124,6.5],[140,5],[158,4],[178,3],[200,2],[260,1.5],[400,1.5]]
];

var runs16d = [
  [[0,383],[20,330],[50,295],[100,250],[150,220],[250,182],[330,152],[420,130],[500,118],[600,108],[700,98],[750,82],[820,70],[880,55],[940,40],[1000,28],[1100,16],[1200,10],[1300,8],[3180,8]],
  [[0,360],[20,300],[50,260],[100,225],[160,195],[230,170],[300,148],[380,128],[460,112],[540,98],[620,85],[700,72],[770,60],[830,48],[900,36],[970,26],[1050,18],[1150,12],[1250,9],[3180,9]],
  [[0,340],[20,280],[50,240],[100,205],[160,178],[230,155],[300,135],[370,118],[440,103],[520,90],[600,78],[680,66],[760,54],[840,42],[920,31],[1000,22],[1090,15],[1200,10],[1280,7],[3550,7]],
  [[0,320],[15,260],[40,225],[80,195],[130,170],[190,150],[260,132],[330,116],[400,102],[480,88],[560,76],[640,64],[720,52],[800,41],[880,31],[960,22],[1050,15],[1150,10],[1250,6],[3000,6]],
  [[0,300],[15,240],[40,205],[80,178],[130,155],[190,135],[250,120],[320,104],[390,90],[460,78],[540,66],[620,55],[700,44],[780,34],[860,25],[950,17],[1050,11],[1150,7],[1250,5],[3100,5]],
  [[0,285],[10,230],[30,195],[70,168],[120,145],[180,125],[240,110],[300,96],[370,82],[440,70],[520,58],[600,47],[680,37],[760,28],[840,20],[930,13],[1030,8],[1150,4.4],[3967,4.4]],
  [[0,270],[10,215],[30,180],[60,155],[110,133],[170,115],[230,100],[290,87],[350,76],[420,64],[500,53],[580,43],[660,34],[740,26],[820,19],[910,13],[1000,9],[1100,6],[1200,4],[2900,4]],
  [[0,255],[10,205],[25,172],[55,148],[100,127],[150,110],[210,95],[270,82],[330,71],[400,60],[470,50],[550,40],[630,31],[710,23],[800,16],[890,11],[990,7],[1100,4],[1200,2.4],[3988,2.4]],
  [[0,240],[8,195],[22,165],[50,140],[90,120],[140,103],[195,89],[250,77],[310,66],[375,56],[445,46],[520,37],[600,29],[680,22],[760,16],[850,11],[950,7],[1050,4.5],[1150,3],[2800,3]],
  [[0,225],[8,185],[20,158],[45,135],[80,116],[125,100],[175,87],[230,75],[290,64],[350,54],[420,44],[495,35],[570,27],[650,20],[730,14],[820,9.5],[920,6],[1030,4],[1150,3],[3000,3]],
  [[0,210],[6,175],[18,150],[40,128],[75,110],[115,95],[165,82],[220,70],[275,60],[335,50],[400,41],[470,33],[545,25],[620,18],[700,13],[790,9],[890,6],[1000,4],[3100,4]],
  [[0,195],[5,165],[15,142],[35,122],[65,105],[105,90],[150,77],[200,66],[255,56],[310,47],[370,39],[440,31],[510,24],[590,17],[670,12],[760,8],[860,5],[980,3],[3200,3]],
  [[0,180],[5,155],[14,135],[30,116],[58,100],[95,86],[140,73],[190,62],[245,52],[300,43],[360,35],[425,28],[495,21],[570,15],[650,10.5],[740,7],[840,4.5],[960,3],[2700,3]],
  [[0,165],[4,145],[12,128],[28,111],[52,96],[85,82],[125,70],[170,59],[220,49],[275,40],[335,32],[400,25],[470,19],[545,13],[625,9],[710,6],[810,4],[930,3],[3150,3]],
  [[0,157],[4,138],[10,124],[24,108],[48,93],[80,80],[120,68],[165,57],[215,47],[270,38],[330,30],[395,23],[465,17],[540,12],[620,8],[700,6],[800,4],[3100,4]],
  [[0,350],[15,290],[40,250],[80,215],[130,185],[190,160],[250,140],[320,123],[390,108],[460,95],[540,83],[620,72],[700,62],[780,52],[860,42],[930,33],[1000,25],[1080,18],[1170,12],[1260,9],[3050,9]],
  [[0,330],[12,275],[35,235],[70,203],[115,177],[170,156],[230,138],[295,121],[360,106],[430,93],[505,80],[580,69],[660,58],[740,47],[820,37],[900,28],[980,20],[1070,14],[1170,9],[1270,7],[2950,7]],
  [[0,310],[10,255],[30,215],[65,185],[110,160],[165,140],[225,123],[290,108],[355,94],[425,81],[500,69],[575,58],[655,47],[735,37],[815,28],[900,20],[990,14],[1090,9],[1200,6],[3100,6]],
  [[0,290],[10,240],[28,205],[60,176],[100,152],[150,132],[210,115],[270,100],[335,87],[400,75],[475,63],[550,52],[630,42],[710,33],[790,25],[880,18],[970,12],[1080,8],[1200,5],[2900,5]],
  [[0,275],[8,228],[25,195],[55,168],[95,146],[145,127],[200,111],[260,97],[320,85],[385,73],[455,61],[530,50],[610,40],[690,31],[775,23],[860,16],[950,11],[1060,7],[1180,4],[3000,4]],
  [[0,262],[8,218],[22,186],[50,160],[88,138],[135,120],[190,104],[245,91],[305,79],[370,67],[440,56],[515,45],[595,35],[675,27],[760,20],[850,14],[945,9],[1050,6],[1170,4],[3120,4]],
  [[0,248],[7,205],[20,175],[45,151],[80,130],[125,113],[178,98],[232,85],[290,74],[352,63],[420,52],[495,42],[575,33],[655,25],[740,18],[830,12.5],[925,8.5],[1030,5.5],[1150,3.5],[3000,3.5]],
  [[0,232],[6,192],[18,165],[42,142],[75,123],[118,106],[168,92],[220,80],[275,69],[335,59],[400,49],[470,40],[548,31],[628,23],[712,17],[800,12],[895,8],[1000,5],[1120,3],[2850,3]],
  [[0,218],[6,182],[16,157],[38,135],[70,117],[110,101],[158,87],[208,75],[262,64],[320,54],[385,45],[455,36],[530,28],[610,21],[695,15],[785,10.5],[880,7],[985,4.5],[1100,3],[3050,3]],
  [[0,202],[5,170],[15,147],[34,127],[64,110],[102,95],[148,82],[196,70],[248,60],[305,50],[368,41],[436,33],[510,25],[590,18.5],[672,13],[760,9],[856,6],[960,4],[1080,2.5],[2950,2.5]],
  [[0,188],[5,160],[14,139],[32,120],[60,104],[95,90],[138,77],[185,66],[235,56],[290,47],[350,38],[415,30],[488,23],[565,17],[645,12],[732,8.5],[828,5.5],[935,3.5],[3100,3.5]],
  [[0,172],[4,150],[12,131],[28,113],[54,98],[88,84],[128,72],[174,61],[222,51],[276,42],[334,34],[398,27],[468,20],[545,14.5],[625,10],[712,7],[808,4.5],[920,3],[3020,3]],
  [[0,230],[10,200],[25,180],[50,162],[85,146],[130,132],[185,119],[245,107],[310,96],[380,86],[450,76],[520,68],[590,60],[650,53],[700,45],[745,38],[790,31],[840,24],[900,18],[965,13],[1040,9.5],[1130,7],[1230,5.5],[3550,5.5]],
  [[0,265],[10,235],[25,212],[50,192],[85,175],[130,160],[180,147],[240,134],[300,122],[365,111],[430,100],[500,90],[570,80],[640,70],[700,62],[760,53],[815,45],[865,37],[915,29],[970,22],[1030,16],[1100,11],[1180,8],[1270,6],[3180,6]],
  [[0,375],[10,320],[25,285],[50,255],[90,228],[140,205],[200,185],[260,168],[320,152],[390,137],[460,124],[530,112],[600,100],[670,88],[735,76],[795,63],[850,51],[905,40],[960,30],[1020,21],[1090,14],[1170,9],[1260,6],[1320,1.5],[4000,1.5]],
  [[0,370],[10,315],[30,272],[60,240],[100,214],[150,190],[200,172],[260,155],[320,141],[390,128],[460,117],[540,108],[620,102],[680,96],[740,84],[800,70],[860,56],[920,42],[980,30],[1040,21],[1110,14],[1190,9],[1270,6],[3200,6]],
  [[0,355],[10,300],[30,262],[60,232],[100,207],[150,184],[200,166],[260,150],[320,137],[390,124],[460,114],[540,106],[600,101],[660,92],[720,80],[780,67],[840,53],[900,40],[960,29],[1020,20],[1090,13],[1170,8.5],[1250,6],[2950,6]],
  [[0,345],[10,290],[30,252],[60,223],[100,199],[150,177],[200,160],[260,144],[320,131],[390,119],[460,110],[520,103],[580,99],[640,88],[700,76],[760,63],[820,50],[880,38],[940,27],[1000,19],[1070,12.5],[1150,8],[1230,5.5],[3100,5.5]],
  [[0,335],[10,282],[30,244],[60,215],[100,192],[150,171],[200,154],[260,139],[320,126],[390,114],[460,105],[540,98],[600,87],[660,75],[720,63],[780,51],[840,40],[900,30],[960,22],[1030,15],[1100,10],[1180,7],[1260,5],[3000,5]],
  [[0,325],[10,272],[30,236],[60,208],[100,185],[150,164],[200,148],[260,133],[320,120],[390,109],[450,103],[500,99],[560,88],[620,76],[680,64],[740,52],[800,41],[860,31],[920,23],[990,16],[1060,11],[1140,7.5],[1220,5],[3050,5]],
  [[0,315],[10,262],[30,228],[60,200],[100,178],[150,158],[200,142],[260,128],[320,116],[390,105],[470,98],[530,87],[590,75],[650,63],[710,51],[770,40],[830,31],[890,23],[960,16],[1030,11],[1110,7.5],[1200,5],[3150,5]],
  [[0,305],[8,255],[25,222],[55,195],[95,172],[140,153],[190,137],[250,123],[310,111],[370,102],[430,97],[490,86],[550,74],[610,62],[670,51],[730,41],[790,32],[850,24],[920,17],[990,11.5],[1070,8],[1160,5.5],[3000,5.5]],
  [[0,295],[8,245],[25,212],[55,186],[95,164],[140,146],[190,131],[250,117],[310,106],[390,97],[450,85],[510,73],[570,62],[630,51],[690,41],[750,32],[810,25],[880,18],[950,12.5],[1030,8.5],[1120,5.5],[3100,5.5]],
  [[0,280],[8,232],[25,200],[55,175],[95,154],[140,137],[190,123],[250,110],[300,102],[350,96],[410,84],[470,72],[530,61],[590,50],[650,40],[710,31],[770,24],[840,17],[910,12],[990,8],[1080,5],[2950,5]],
  [[0,268],[8,222],[22,192],[50,167],[88,147],[132,131],[180,117],[236,105],[290,100],[320,95],[380,82],[440,70],[500,59],[560,48],[620,39],[680,31],[740,24],[810,17],[880,12],[960,8],[1050,5],[3000,5]],
  [[0,258],[8,213],[22,184],[50,160],[88,141],[132,125],[180,112],[236,102],[280,97],[340,84],[400,72],[460,61],[520,50],[580,41],[640,33],[700,26],[770,19],[840,13.5],[920,9],[1010,6],[1110,4],[3100,4]],
  [[0,245],[7,203],[20,175],[45,152],[80,134],[120,119],[165,107],[215,101],[250,96],[310,83],[370,71],[430,60],[490,50],[550,41],[610,33],[670,26],[740,19],[810,13.5],[890,9],[980,6],[1080,4],[2900,4]],
  [[0,236],[7,195],[20,168],[45,146],[80,128],[120,114],[165,104],[210,97],[270,84],[330,72],[390,61],[450,51],[510,42],[570,34],[630,27],[700,20],[770,14.5],[850,10],[940,6.5],[1040,4],[3050,4]],
  [[0,220],[6,183],[18,158],[40,137],[72,120],[110,108],[145,102],[170,97],[230,84],[290,72],[350,61],[410,51],[470,42],[530,34],[595,27],[660,21],[730,15],[810,10.5],[900,7],[1000,4.5],[3000,4.5]],
  [[0,212],[6,176],[18,151],[40,131],[72,115],[110,104],[140,98],[200,85],[260,73],[320,62],[380,52],[440,43],[500,35],[565,28],[630,21.5],[700,16],[780,11],[870,7.5],[970,5],[2900,5]],
  [[0,196],[5,164],[16,141],[36,123],[65,109],[95,102],[115,97],[170,85],[230,73],[290,62],[350,52],[410,43],[470,35],[535,28],[600,21.5],[670,16],[750,11],[840,7.5],[940,5],[3050,5]],
  [[0,186],[5,156],[15,134],[34,117],[60,104],[90,98],[150,85],[210,73],[270,62],[330,52],[390,43],[450,35],[515,28],[580,21.5],[650,16],[730,11],[820,7],[920,4.5],[3100,4.5]],
  [[0,176],[4,148],[13,128],[30,112],[55,102],[80,97],[130,86],[185,75],[245,64],[305,54],[365,45],[425,37],[490,29.5],[555,23],[625,17],[700,12],[785,8],[880,5],[2950,5]],
  [[0,300],[12,250],[30,215],[55,190],[85,170],[120,154],[160,140],[210,114],[270,95],[330,80],[390,67],[450,56],[510,46],[570,37],[630,29],[690,22],[760,16],[840,11],[930,7],[1030,4.5],[3200,4.5]],
  [[0,262],[10,225],[25,200],[50,178],[80,160],[115,145],[155,132],[200,120],[250,109],[300,99],[350,90],[400,81],[450,73],[500,66],[560,58],[620,50],[680,42],[740,34],[800,27],[860,21],[930,15.5],[1010,11],[1100,7.5],[1200,5],[3000,5]],
  [[0,240],[8,205],[22,180],[45,160],[75,143],[110,128],[150,116],[195,105],[245,95],[295,86],[345,78],[400,70],[455,62],[510,55],[570,48],[630,41],[690,34],[750,28],[815,22],[880,17],[950,12.5],[1030,9],[1120,6],[3100,6]],
  [[0,228],[7,195],[20,172],[42,152],[70,136],[104,122],[142,110],[186,99],[234,89],[284,80],[336,72],[390,64],[446,56],[504,49],[564,42],[626,35],[690,29],[756,23],[824,18],[894,13.5],[970,9.5],[1050,6.5],[1150,4.5],[3000,4.5]],
  [[0,204],[6,176],[18,155],[38,137],[64,122],[96,109],[132,98],[174,88],[220,79],[268,71],[318,63],[370,56],[424,49],[480,43],[540,37],[602,31],[666,25.5],[732,20.5],[800,16],[872,12],[950,8.5],[1040,6],[1140,4],[3100,4]],
  [[0,190],[5,164],[15,145],[33,128],[58,114],[88,102],[122,92],[162,83],[206,75],[254,67],[304,60],[356,53],[410,46.5],[466,40.5],[524,35],[584,29.5],[646,24.5],[710,20],[778,15.5],[850,11.5],[930,8],[1020,5.5],[1120,3.5],[2950,3.5]],
  [[0,170],[4,148],[13,131],[29,116],[52,103],[80,92],[112,82],[150,73],[192,65],[238,57.5],[286,50.5],[336,44],[388,38],[442,32.5],[498,27.5],[556,23],[616,18.5],[680,14.5],[748,11],[822,8],[902,5.5],[990,3.5],[2800,3.5]]
];

var panelTitles = ["Rastr 2d", "Rastr 4d", "Rastr 8d", "Rastr 16d"];
var xTickValues = [
  [0, 50, 100, 150, 200, 250, 300],
  [0, 100, 200, 300, 400, 500, 600],
  [0, 200, 400, 600, 800, 1000, 1200, 1400],
  [0, 1000, 2000, 3000, 4000]
];
var yTickValues = [
  [0, 10, 20, 30, 40, 50, 60, 70],
  [0, 20, 40, 60, 80, 100, 120],
  [0, 50, 100, 150, 200],
  [0, 50, 100, 150, 200, 250, 300, 350, 400]
];
var fvalOpt = 0.0;
var optLineEnd = [296, 645, 1375, 3970];   // x where the red reference line stops

// ---- layout (matplotlib 10x10 in figure at 100 dpi, 2x2 subplots) ----
var figW = 1000, figH = 1000;
var W = 352.27, H = 350;
var colLeft = [125, 547.73];
var rowTop = [120, 540];
var pt = 100 / 72;   // one point in px
var fs = 10 * pt;
var fsTitle = 12 * pt;
var lineW = 1.5 * pt;
var dots = (1 * lineW) + "," + (1.65 * lineW);

var svg = d3.select("#chart-area")
  .append("svg")
    .attr("width", figW)
    .attr("height", figH);

svg.append("rect").attr("width", figW).attr("height", figH).attr("fill", "#fff");

// suptitle
svg.append("text")
  .attr("x", figW / 2)
  .attr("y", 32)
  .attr("text-anchor", "middle")
  .attr("font-size", fsTitle + "px")
  .text("NOMAD on Rastr with 100 random starts");

var panelRuns = [runs2d, runs4d, runs8d, runs16d];

panelRuns.forEach(function(runs, i) {
  var left = colLeft[i % 2];
  var top = rowTop[Math.floor(i / 2)];

  // matplotlib style autoscale: 5% margins, y range includes the optimum line
  var xMax = d3.max(runs, function(r) { return d3.max(r, function(d) { return d[0]; }); });
  var yMax = d3.max(runs, function(r) { return d3.max(r, function(d) { return d[1]; }); });
  var yMin = Math.min(fvalOpt, d3.min(runs, function(r) { return d3.min(r, function(d) { return d[1]; }); }));

  var x = d3.scaleLinear()
    .domain([-0.05 * xMax, 1.05 * xMax])
    .range([0, W]);
  var y = d3.scaleLinear()
    .domain([yMin - 0.05 * (yMax - yMin), yMax + 0.05 * (yMax - yMin)])
    .range([H, 0]);

  var g = svg.append("g")
    .attr("transform", "translate(" + left + "," + top + ")");

  g.append("clipPath").attr("id", "clip" + i)
    .append("rect").attr("width", W).attr("height", H);

  // grid
  g.append("g").selectAll("line").data(xTickValues[i]).enter().append("line")
    .attr("x1", function(d) { return x(d); })
    .attr("x2", function(d) { return x(d); })
    .attr("y1", 0).attr("y2", H)
    .attr("stroke", "#b0b0b0").attr("stroke-width", 0.8 * pt);
  g.append("g").selectAll("line").data(yTickValues[i]).enter().append("line")
    .attr("y1", function(d) { return y(d); })
    .attr("y2", function(d) { return y(d); })
    .attr("x1", 0).attr("x2", W)
    .attr("stroke", "#b0b0b0").attr("stroke-width", 0.8 * pt);

  // runs: best value so far, held until the next improvement
  var stepLine = d3.line()
    .curve(d3.curveStepAfter)
    .x(function(d) { return x(d[0]); })
    .y(function(d) { return y(d[1]); });

  var plot = g.append("g").attr("clip-path", "url(#clip" + i + ")");
  plot.selectAll("path.run").data(runs).enter().append("path")
    .attr("class", "run")
    .attr("d", stepLine)
    .attr("fill", "none")
    .attr("stroke", "#808080")
    .attr("stroke-width", lineW)
    .attr("stroke-linejoin", "round")
    .attr("stroke-linecap", "square");

  // optimum reference line
  plot.append("path")
    .attr("d", stepLine([[0, fvalOpt], [optLineEnd[i], fvalOpt]]))
    .attr("fill", "none")
    .attr("stroke", "red")
    .attr("stroke-width", lineW)
    .attr("stroke-dasharray", dots);

  // axes
  var xAxis = d3.axisBottom(x).tickValues(xTickValues[i]).tickFormat(d3.format("d"))
    .tickSize(3.5 * pt).tickSizeOuter(0).tickPadding(3.5 * pt);
  var yAxis = d3.axisLeft(y).tickValues(yTickValues[i]).tickFormat(d3.format("d"))
    .tickSize(3.5 * pt).tickSizeOuter(0).tickPadding(3.5 * pt);

  var xg = g.append("g").attr("transform", "translate(0," + H + ")").call(xAxis);
  var yg = g.append("g").call(yAxis);
  [xg, yg].forEach(function(a) {
    a.select(".domain").remove();
    a.selectAll(".tick line").attr("stroke", "#000").attr("stroke-width", 0.8 * pt);
    a.selectAll(".tick text")
      .attr("font-size", fs + "px")
      .attr("font-family", "DejaVu Sans")
      .attr("fill", "#000");
  });
  xg.selectAll(".tick text").attr("y", 21.5).attr("dy", 0);
  yg.selectAll(".tick text").attr("dy", "0.36em");

  // spines
  g.append("rect")
    .attr("width", W).attr("height", H)
    .attr("fill", "none").attr("stroke", "#000").attr("stroke-width", 0.8 * pt);

  // axis labels
  g.append("text")
    .attr("x", W / 2)
    .attr("y", H + 39.5)
    .attr("text-anchor", "middle")
    .attr("font-size", fs + "px")
    .text("# Black-box function evaluations");

  var maxTickW = 0;
  yg.selectAll(".tick text").each(function() {
    maxTickW = Math.max(maxTickW, this.getComputedTextLength());
  });
  g.append("text")
    .attr("transform", "translate(" + (-7 * pt - maxTickW - 9.6) + "," + (H / 2) + ") rotate(-90)")
    .attr("text-anchor", "middle")
    .attr("font-size", fs + "px")
    .text("Best objective value");

  // title
  g.append("text")
    .attr("x", W / 2)
    .attr("y", -8)
    .attr("text-anchor", "middle")
    .attr("font-size", fsTitle + "px")
    .text(panelTitles[i]);

  // legend (upper right)
  var pad = 0.5 * fs, bpad = 0.4 * fs, handleLen = 2 * fs, textPad = 0.8 * fs;
  var leg = g.append("g");
  var legBox = leg.append("rect");
  var legText = leg.append("text")
    .attr("font-size", fs + "px")
    .text("fval_opt = " + fvalOpt.toFixed(1));
  var tw = legText.node().getComputedTextLength();
  var lw = bpad + handleLen + textPad + tw + bpad;
  var lh = 24.5;
  var lx = W - pad - lw, ly = pad;
  legBox.attr("x", lx).attr("y", ly).attr("width", lw).attr("height", lh)
    .attr("rx", 2.8).attr("ry", 2.8)
    .attr("fill", "#fff").attr("fill-opacity", 0.8)
    .attr("stroke", "#cccccc").attr("stroke-width", pt);
  leg.append("line")
    .attr("x1", lx + bpad).attr("x2", lx + bpad + handleLen)
    .attr("y1", ly + 12.3).attr("y2", ly + 12.3)
    .attr("stroke", "red").attr("stroke-width", lineW)
    .attr("stroke-dasharray", dots);
  legText.attr("x", lx + bpad + handleLen + textPad).attr("y", ly + 16.5);
});
</script>
</body>
</html>
